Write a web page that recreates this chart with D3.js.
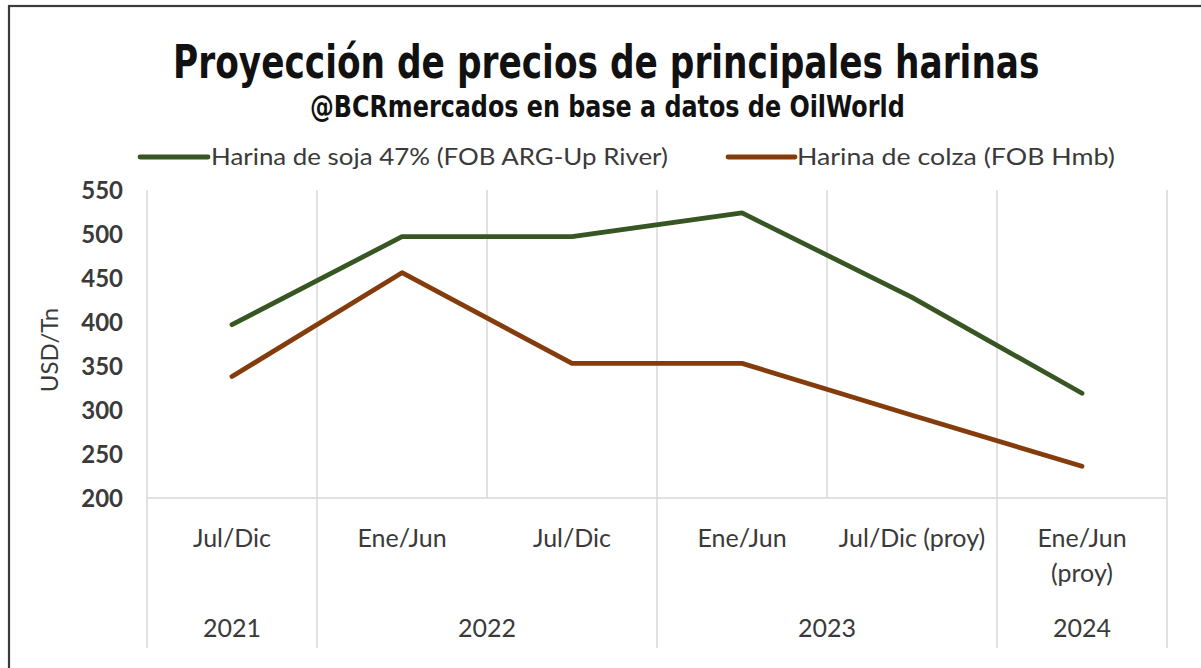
<!DOCTYPE html>
<html>
<head>
<meta charset="utf-8">
<script src="https://cdn.jsdelivr.net/npm/d3@7"></script>
<style>
  html, body { margin: 0; padding: 0; background: #fff; }
  svg { display: block; }
</style>
</head>
<body>
<svg id="chart" width="1201" height="668"></svg>
<script>
// ---- Data ----
const periods = ["Jul/Dic", "Ene/Jun", "Jul/Dic", "Ene/Jun", "Jul/Dic (proy)", "Ene/Jun|(proy)"];
const years = ["2021", "2022", "2022", "2023", "2023", "2024"];
const soja = [397, 497, 497, 524, 428, 319];
const colza = [338, 456, 353, 353, 294, 236];
const yTicks = [200, 250, 300, 350, 400, 450, 500, 550];
const seriesNames = ["Harina de soja 47% (FOB ARG-Up River)", "Harina de colza (FOB Hmb)"];
const titleText = "Proyección de precios de principales harinas";
const subtitleText = "@BCRmercados en base a datos de OilWorld";
const yTitle = "USD/Tn";

// ---- Layout ----
const svg = d3.select("#chart");
const W = 1201, H = 668;
const plot = { left: 147, right: 1167, top: 190, bottom: 498 };
const colors = ["#375623", "#843C0C"];
const labelFont = "Lato, 'Open Sans', sans-serif";
const condFont = "'Liberation Sans Narrow', 'DejaVu Sans Condensed', 'Roboto Condensed', sans-serif";
const textColor = "#3a3a3a";
const gridColor = "#d9d9d9";

// frame
svg.append("rect").attr("x", 9).attr("y", 6).attr("width", W + 20).attr("height", H + 20)
  .attr("fill", "#fff").attr("stroke", "#3a3a3a").attr("stroke-width", 2.2);

const idx = d3.range(periods.length);
const x = d3.scaleBand().domain(idx).range([plot.left, plot.right]).paddingInner(0).paddingOuter(0);
const y = d3.scaleLinear().domain([200, 550]).range([plot.bottom, plot.top]);

// vertical gridlines at category boundaries
const bounds = idx.map(i => x(i)).concat([x(idx[idx.length - 1]) + x.bandwidth()]);
svg.append("g").selectAll("line").data(bounds).join("line")
  .attr("x1", d => d).attr("x2", d => d)
  .attr("y1", plot.top).attr("y2", plot.bottom)
  .attr("stroke", gridColor).attr("stroke-width", 1.5);

// baseline
svg.append("line").attr("x1", plot.left).attr("x2", plot.right)
  .attr("y1", y(200)).attr("y2", y(200)).attr("stroke", gridColor).attr("stroke-width", 1.5);

// year groups
const groups = [];
years.forEach((yr, i) => {
  const g = groups[groups.length - 1];
  if (g && g.year === yr) g.end = i; else groups.push({ year: yr, start: i, end: i });
});
const yearBounds = [x(0)].concat(groups.map(g => x(g.end) + x.bandwidth()));
svg.append("g").selectAll("line").data(yearBounds).join("line")
  .attr("x1", d => d).attr("x2", d => d)
  .attr("y1", plot.bottom).attr("y2", 648)
  .attr("stroke", gridColor).attr("stroke-width", 1.5);

// category labels
const catG = svg.append("g").attr("font-family", labelFont).attr("font-size", 25)
  .attr("fill", textColor).attr("text-anchor", "middle");
periods.forEach((p, i) => {
  const lines = p.split("|");
  const t = catG.append("text").attr("x", x(i) + x.bandwidth() / 2).attr("y", 547);
  lines.forEach((ln, k) => {
    t.append("tspan").attr("x", x(i) + x.bandwidth() / 2).attr("dy", k === 0 ? 0 : 35).text(ln);
  });
});

// year labels
svg.append("g").selectAll("text").data(groups).join("text")
  .attr("x", g => (x(g.start) + x(g.end) + x.bandwidth()) / 2)
  .attr("y", 637)
  .attr("text-anchor", "middle")
  .attr("font-family", labelFont).attr("font-size", 25).attr("fill", textColor)
  .text(g => g.year);

// y axis
const yAxis = d3.axisLeft(y).tickValues(yTicks).tickSize(0).tickPadding(0);
const yg = svg.append("g").attr("transform", `translate(123,0)`).call(yAxis);
yg.select(".domain").remove();
yg.selectAll("text").attr("font-family", labelFont).attr("font-size", 24)
  .attr("font-weight", "bold").attr("fill", textColor).attr("dy", "0.35em");

// y title
svg.append("text").attr("transform", `translate(58,${(plot.top + plot.bottom) / 2 + 6}) rotate(-90)`)
  .attr("text-anchor", "middle").attr("font-family", labelFont).attr("font-size", 24)
  .attr("fill", textColor).text(yTitle);

// lines
const line = d3.line().x((d, i) => x(i) + x.bandwidth() / 2).y(d => y(d));
[soja, colza].forEach((s, k) => {
  svg.append("path").datum(s).attr("d", line)
    .attr("fill", "none").attr("stroke", colors[k]).attr("stroke-width", 4.8)
    .attr("stroke-linejoin", "round").attr("stroke-linecap", "round");
});

// helper: fit a text to a target width by horizontal scaling (keeps bbox consistent)
function fitText(sel, left, baseline, targetW) {
  const w = sel.node().getComputedTextLength();
  const s = targetW / w;
  sel.attr("x", 0).attr("y", 0)
    .attr("transform", `translate(${left},${baseline}) scale(${s},1)`);
}

// title
const tt = svg.append("text").attr("font-family", condFont).attr("font-weight", "bold")
  .attr("font-size", 46).attr("fill", "#111").text(titleText);
fitText(tt, 173, 78, 867);
const st = svg.append("text").attr("font-family", condFont).attr("font-weight", "bold")
  .attr("font-size", 30).attr("fill", "#111").text(subtitleText);
fitText(st, 310, 117, 595);

// legend
const legend = [
  { x1: 140, x2: 208, tx: 211, tw: 457 },
  { x1: 728, x2: 795, tx: 797, tw: 318 }
];
legend.forEach((l, k) => {
  svg.append("line").attr("x1", l.x1).attr("x2", l.x2).attr("y1", 157).attr("y2", 157)
    .attr("stroke", colors[k]).attr("stroke-width", 4.8).attr("stroke-linecap", "round");
  const lt = svg.append("text").attr("font-family", labelFont).attr("font-size", 23)
    .attr("fill", textColor).text(seriesNames[k]);
  fitText(lt, l.tx, 165, l.tw);
});
</script>
</body>
</html>
